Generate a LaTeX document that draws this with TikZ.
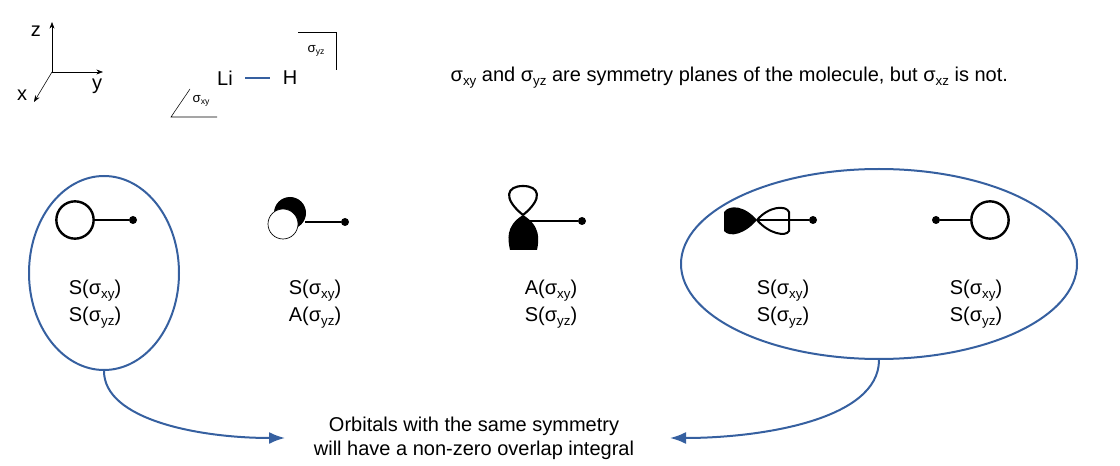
\documentclass[tikz,border=0pt]{standalone}
\usepackage{fontspec}
\setmainfont{Liberation Sans}
\usetikzlibrary{arrows.meta,calc,shapes.geometric}
\definecolor{eb}{RGB}{54,96,160}
\begin{document}
\begin{tikzpicture}[x=0.75pt,y=-0.75pt,font=\fontsize{15}{18}\selectfont,
  lbl/.style={align=center,inner sep=0pt},
  bond/.style={line width=0.8pt},
  dot/.style={circle,fill,inner sep=0pt,minimum size=6pt},
  orb/.style={line width=1.8pt},
  encl/.style={draw=eb,line width=1.5pt},
  link/.style={draw=eb,line width=1.5pt,-{Latex[length=12pt,width=9pt]}}]
\useasboundingbox (0,0) rectangle (1120,466);
% axes
\coordinate (O) at (52,72);
\coordinate (Z) at (52,22);
\coordinate (Y) at (103,72);
\coordinate (X) at (34,102);
\draw[-{Stealth[length=5pt]}] (O) -- (Z);
\draw[-{Stealth[length=5pt]}] (O) -- (Y);
\draw[-{Stealth[length=5pt]}] (O) -- (X);
\node (zl) at (36,31) {z};
\node (yl) at (97,86) {y};
\node (xl) at (22,95) {x};
% molecule
\node (li) at (225,78) {Li};
\node (h) at (290,78) {H};
\coordinate (b1) at (245,78);
\coordinate (b2) at (270,78);
\draw[eb,line width=0.8pt] (b1) -- (b2);
\draw (298,32) -- (336,32) -- (336,70);
\node (syz) at (316,51) {\fontsize{10}{11}\selectfont σ\raisebox{-2pt}{\fontsize{6.5}{7}\selectfont yz}};
\draw (190,89) -- (171,117) -- (217,117);
\node (sxy) at (201,101) {\fontsize{10}{11}\selectfont σ\raisebox{-2pt}{\fontsize{6.5}{7}\selectfont xy}};
\newcommand{\sg}[1]{σ\raisebox{-3pt}{\fontsize{10}{11}\selectfont #1}}
\node[anchor=west] (txt) at (446,78) {\sg{xy} and \sg{yz} are symmetry planes of the molecule, but \sg{xz} is not.};
% orbital 1
\node[circle,draw,orb,inner sep=0pt,minimum size=28pt] (o1) at (75,220) {};
\node[dot] (d1) at (133,220) {};
\draw[bond] (o1.east) -- (d1);
% orbital 2
\fill (290,213) circle (16);
\node[dot] (d2) at (345,222) {};
\draw[bond] (305,222) -- (d2);
\draw[fill=white,line width=0.5pt] (283,224) circle (15);
% orbital 3
\draw[line width=1.6pt] (523,215) .. controls (502,198) and (507,186) .. (523,186) .. controls (539,186) and (544,198) .. (523,215);
\fill (523,215) .. controls (505,226) and (508,240) .. (510,250) -- (537,250) .. controls (539,240) and (541,226) .. (523,215);
\node[dot] (d3) at (582,221) {};
\draw[bond] (523,221) -- (d3);
% orbital 4
\fill (757,220) .. controls (745,206) and (730,204) .. (724,212) -- (724,231) .. controls (730,238) and (745,234) .. (757,220);
\draw[line width=1.5pt] (757,220) .. controls (769,206) and (786,205) .. (789,212) -- (789,231) .. controls (786,237) and (769,234) .. (757,220);
\node[dot] (d4) at (813,220) {};
\draw[bond] (757,220) -- (d4);
% orbital 5
\node[dot] (d5) at (936,220) {};
\node[circle,draw,orb,inner sep=0pt,minimum size=28pt] (o5) at (990,220) {};
\draw[bond] (d5) -- (o5.west);
% labels
\node[lbl] (l1) at (95,304) {S(\sg{xy})\\[2pt]S(\sg{yz})};
\node[lbl] (l2) at (315,304) {S(\sg{xy})\\[2pt]A(\sg{yz})};
\node[lbl] (l3) at (551,304) {A(\sg{xy})\\[2pt]S(\sg{yz})};
\node[lbl] (l4) at (783,304) {S(\sg{xy})\\[2pt]S(\sg{yz})};
\node[lbl] (l5) at (976,304) {S(\sg{xy})\\[2pt]S(\sg{yz})};
% enclosures
\node[ellipse,encl,minimum width=112.5pt,minimum height=145.5pt,inner sep=0pt] (e1) at (104,273) {};
\node[ellipse,encl,minimum width=297pt,minimum height=142.5pt,inner sep=0pt] (e2) at (879,264) {};
\node[lbl] (res) at (474,438) {Orbitals with the same symmetry\\will have a non-zero overlap integral};
\draw[link] (e1.south) .. controls (104,420) and (200,438) .. (285,438);
\draw[link] (e2.south) .. controls (879,420) and (760,438) .. (670,438);
\end{tikzpicture}
\end{document}
